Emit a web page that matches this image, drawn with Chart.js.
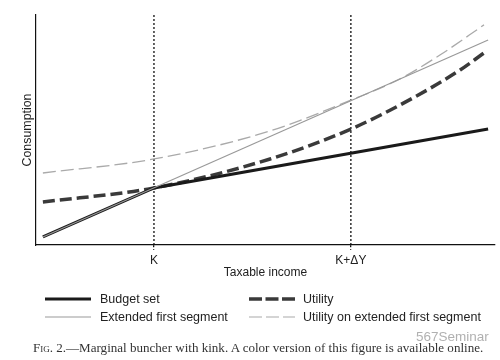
<!DOCTYPE html>
<html><head><meta charset="utf-8">
<script src="https://cdn.jsdelivr.net/npm/chart.js@4.4.0/dist/chart.umd.min.js"></script>
<style>
html,body{margin:0;padding:0;background:#fff;}
#wrap{position:relative;width:500px;height:360px;overflow:hidden;background:#fff;}
#c{position:absolute;left:0;top:0;}
.lt{position:absolute;font-family:"Liberation Sans",Arial,sans-serif;font-size:12.5px;color:#222;line-height:14px;white-space:nowrap;}
#legsvg{position:absolute;left:0;top:0;}
#cap{position:absolute;left:33px;top:340px;font-family:"Liberation Serif","Times New Roman",serif;font-size:13.05px;color:#333;white-space:nowrap;line-height:16px;}
#cap .sc{font-variant:small-caps;}
#wm{position:absolute;left:416px;top:329px;font-family:"Liberation Sans",Arial,sans-serif;font-size:13.5px;color:rgba(150,150,150,0.75);white-space:nowrap;}
</style>
</head><body>
<div id="wrap">
<canvas id="c" width="500" height="360"></canvas>
<svg id="legsvg" width="500" height="360">
  <line x1="45" y1="299" x2="91" y2="299" stroke="#1a1a1a" stroke-width="3"/>
  <line x1="45" y1="317" x2="91" y2="317" stroke="#999" stroke-width="1.2"/>
  <line x1="249" y1="299" x2="295" y2="299" stroke="#3a3a3a" stroke-width="3.5" stroke-dasharray="13,3.5"/>
  <line x1="249" y1="317" x2="295" y2="317" stroke="#aaa" stroke-width="1.2" stroke-dasharray="13,4"/>
</svg>
<div class="lt" style="left:100px;top:292px;">Budget set</div>
<div class="lt" style="left:100px;top:310px;">Extended first segment</div>
<div class="lt" style="left:303px;top:292px;">Utility</div>
<div class="lt" style="left:303px;top:310px;">Utility on extended first segment</div>
<div id="cap"><span class="sc">Fig.</span> 2.—Marginal buncher with kink. A color version of this figure is available online.</div>
<div id="wm">567Seminar</div>
</div>
<script>
// ---- data ----
const K = 25.7;
const KdY = 68.6;
const tickValues = [K, KdY];
const tickLabels = ['K', 'K+ΔY'];
const budgetX = [1.5, 25.7, 98.5];
const budgetY = [3.5, 24.8, 50.4];
const extX = [1.5, 98.5];
const extY = [3.5, 89.1];
const utilX = [1.5, 25.7, 51.0, 68.6, 82.1, 92.4, 97.6];
const utilY = [18.7, 24.8, 37.4, 50.4, 63.9, 76.1, 83.5];
const utilExtX = [1.5, 25.7, 51.0, 68.6, 79.3, 88.0, 97.6];
const utilExtY = [31.3, 37.4, 49.6, 63.0, 72.2, 82.6, 95.7];
const seriesNames = ['Budget set', 'Extended first segment', 'Utility', 'Utility on extended first segment'];

const pts = (xs, ys) => xs.map((x, i) => ({x: x, y: ys[i]}));
const FONT = '"Liberation Sans", Arial, sans-serif';

const datasets = [
  {label: seriesNames[1], data: pts(extX, extY), borderColor: '#999', borderWidth: 1.2, tension: 0, order: 0},
  {label: seriesNames[0], data: pts(budgetX, budgetY), borderColor: '#1a1a1a', borderWidth: 3, tension: 0, order: 1},
  {label: seriesNames[2], data: pts(utilX, utilY), borderColor: '#3a3a3a', borderWidth: 3.5, borderDash: [12, 5], cubicInterpolationMode: 'monotone', order: 2},
  {label: seriesNames[3], data: pts(utilExtX, utilExtY), borderColor: '#aaa', borderWidth: 1.3, borderDash: [13, 5], cubicInterpolationMode: 'monotone', order: 3},
  {label: 'K line', data: [{x: K, y: 0}, {x: K, y: 100}], borderColor: '#111', borderWidth: 1.3, borderDash: [2, 2], order: 4},
  {label: 'K+dY line', data: [{x: KdY, y: 0}, {x: KdY, y: 100}], borderColor: '#111', borderWidth: 1.3, borderDash: [2, 2], order: 4}
];

new Chart(document.getElementById('c'), {
  type: 'line',
  data: {datasets: datasets},
  options: {
    responsive: false,
    animation: false,
    events: [],
    layout: {padding: {left: 0, right: 5, top: 15, bottom: 80}},
    elements: {point: {radius: 0}, line: {fill: false, borderCapStyle: 'butt'}},
    plugins: {legend: {display: false}, tooltip: {enabled: false}},
    scales: {
      x: {
        type: 'linear', min: 0, max: 100,
        afterBuildTicks: s => { s.ticks = tickValues.map(v => ({value: v})); },
        afterFit: s => { s.height = 35; },
        ticks: {
          autoSkip: false, maxRotation: 0, padding: 3, color: '#222',
          font: {family: FONT, size: 12},
          callback: v => tickLabels[tickValues.indexOf(v)]
        },
        grid: {drawOnChartArea: false, drawTicks: true, tickLength: 5, color: '#111', tickBorderDash: [2, 2], lineWidth: 1.3},
        border: {display: true, color: '#111', width: 1.2},
        title: {display: true, text: 'Taxable income', color: '#222', font: {family: FONT, size: 12}, padding: {top: 0, bottom: 0}}
      },
      y: {
        type: 'linear', min: 0, max: 100,
        afterFit: s => { s.width = 36; },
        ticks: {display: false},
        grid: {drawOnChartArea: false, drawTicks: false},
        border: {display: true, color: '#111', width: 1.2},
        title: {display: true, text: 'Consumption', color: '#222', font: {family: FONT, size: 12.4}, padding: {top: 20, bottom: 0}}
      }
    }
  }
});
</script>
</body></html>
